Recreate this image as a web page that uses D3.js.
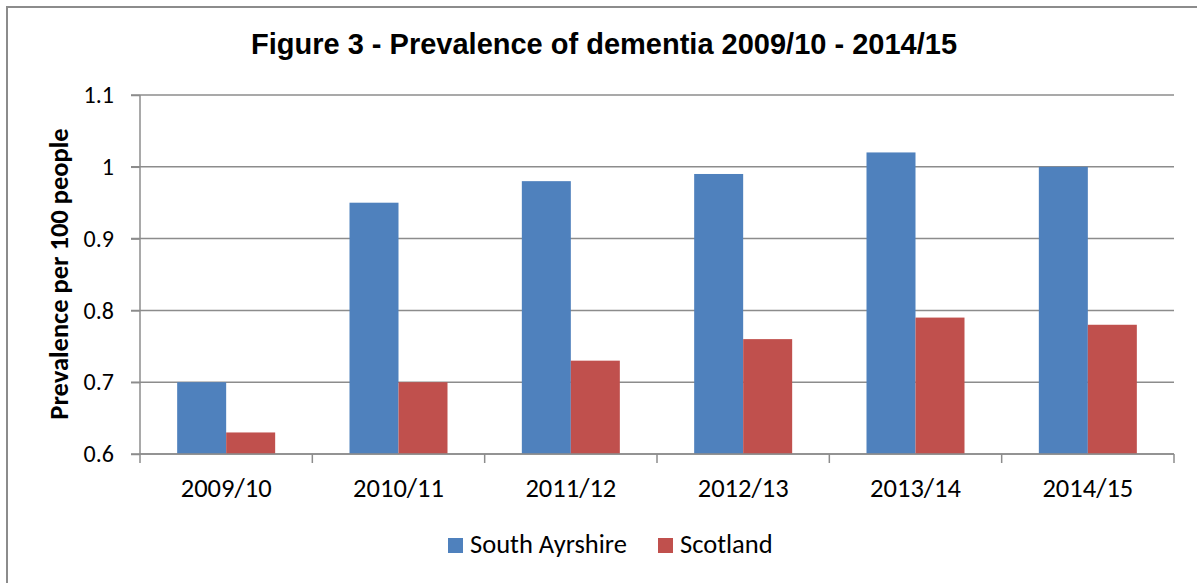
<!DOCTYPE html>
<html>
<head>
<meta charset="utf-8">
<script src="https://cdn.jsdelivr.net/npm/d3@7"></script>
<style>
  body { margin: 0; background: #fff; }
  svg { display: block; }
</style>
</head>
<body>
<svg width="1197" height="583"></svg>
<script>
    var categories = ["2009/10", "2010/11", "2011/12", "2012/13", "2013/14", "2014/15"];
    var southAyrshire = [0.70, 0.95, 0.98, 0.99, 1.02, 1.00];
    var scotland = [0.63, 0.70, 0.73, 0.76, 0.79, 0.78];
    var seriesNames = ["South Ayrshire", "Scotland"];
    var seriesColors = ["#4f81bd", "#c0504d"];
    var yTicks = [0.6, 0.7, 0.8, 0.9, 1, 1.1];

    var svg = d3.select("svg");
    var labelFont = "Carlito, Lato, 'Open Sans', sans-serif";

    // outer chart border (right/bottom edges run off the picture)
    svg.append("rect")
        .attr("x", 7).attr("y", 7)
        .attr("width", 1200).attr("height", 600)
        .attr("fill", "#fff")
        .attr("stroke", "#8c8c8c")
        .attr("stroke-width", 2);

    var plotLeft = 140, plotRight = 1174, plotTop = 95, plotBottom = 454;

    var x = d3.scaleBand()
        .domain(categories)
        .range([plotLeft, plotRight]);

    var xInner = d3.scaleBand()
        .domain(seriesNames)
        .range([0, 98]);

    var y = d3.scaleLinear()
        .domain([0.6, 1.1])
        .range([plotBottom, plotTop]);

    // gridlines
    svg.append("g")
        .selectAll("line")
        .data(yTicks).enter()
        .append("line")
        .attr("x1", plotLeft - 9).attr("x2", plotRight)
        .attr("y1", function (d) { return y(d); })
        .attr("y2", function (d) { return y(d); })
        .attr("stroke", "#8c8c8c")
        .attr("stroke-width", 1.5);

    // bars
    var rows = categories.map(function (c, i) {
        return { cat: c, values: [southAyrshire[i], scotland[i]] };
    });

    svg.append("g")
        .selectAll("g")
        .data(rows).enter()
        .append("g")
        .attr("transform", function (d) {
            return "translate(" + (x(d.cat) + x.bandwidth() / 2 - 49) + ",0)";
        })
        .selectAll("rect")
        .data(function (d) { return d.values; }).enter()
        .append("rect")
        .attr("x", function (d, i) { return xInner(seriesNames[i]); })
        .attr("y", function (d) { return y(d); })
        .attr("width", xInner.bandwidth())
        .attr("height", function (d) { return plotBottom - y(d); })
        .attr("fill", function (d, i) { return seriesColors[i]; });

    // y axis
    var yAxis = svg.append("g")
        .attr("transform", "translate(" + plotLeft + ",0)")
        .call(d3.axisLeft(y)
            .tickValues(yTicks)
            .tickSize(9)
            .tickPadding(17)
            .tickFormat(function (d) { return d; }));
    yAxis.select(".domain").attr("stroke", "#8c8c8c").attr("stroke-width", 1.5)
        .attr("d", "M0," + plotTop + "V" + plotBottom);
    yAxis.selectAll(".tick line").attr("stroke", "#8c8c8c").attr("stroke-width", 1.5);
    yAxis.selectAll("text")
        .attr("font-family", labelFont)
        .attr("font-size", 24)
        .attr("fill", "#000");

    // x axis
    var xAxis = svg.append("g")
        .attr("transform", "translate(0," + plotBottom + ")")
        .call(d3.axisBottom(x).tickSize(0).tickPadding(24));
    xAxis.select(".domain").attr("stroke", "#8c8c8c").attr("stroke-width", 1.5)
        .attr("d", "M" + plotLeft + ",0H" + plotRight);
    xAxis.selectAll("text")
        .attr("font-family", labelFont)
        .attr("font-size", 26.5)
        .attr("fill", "#000");

    // x tick marks at category boundaries
    var bounds = categories.map(function (c) { return x(c); }).concat([plotRight]);
    svg.append("g")
        .selectAll("line")
        .data(bounds).enter()
        .append("line")
        .attr("x1", function (d) { return d; })
        .attr("x2", function (d) { return d; })
        .attr("y1", plotBottom).attr("y2", plotBottom + 9)
        .attr("stroke", "#8c8c8c")
        .attr("stroke-width", 1.5);

    // title
    svg.append("text")
        .attr("x", 604).attr("y", 54)
        .attr("text-anchor", "middle")
        .attr("font-family", "'Liberation Sans', Arial, sans-serif")
        .attr("font-weight", "bold")
        .attr("font-size", 29)
        .text("Figure 3 - Prevalence of dementia 2009/10 - 2014/15");

    // y axis title
    svg.append("text")
        .attr("transform", "translate(68,274) rotate(-90)")
        .attr("text-anchor", "middle")
        .attr("font-family", labelFont)
        .attr("font-weight", "bold")
        .attr("font-size", 26.5)
        .text("Prevalence per 100 people");

    // legend
    var legendX = [448, 658];
    var legend = svg.append("g")
        .selectAll("g")
        .data(seriesNames).enter()
        .append("g")
        .attr("transform", function (d, i) { return "translate(" + legendX[i] + ",538)"; });
    legend.append("rect")
        .attr("width", 15).attr("height", 15)
        .attr("fill", function (d, i) { return seriesColors[i]; });
    legend.append("text")
        .attr("x", 22).attr("y", 15)
        .attr("font-family", labelFont)
        .attr("font-size", 26.5)
        .text(function (d) { return d; });
</script>
</body>
</html>
